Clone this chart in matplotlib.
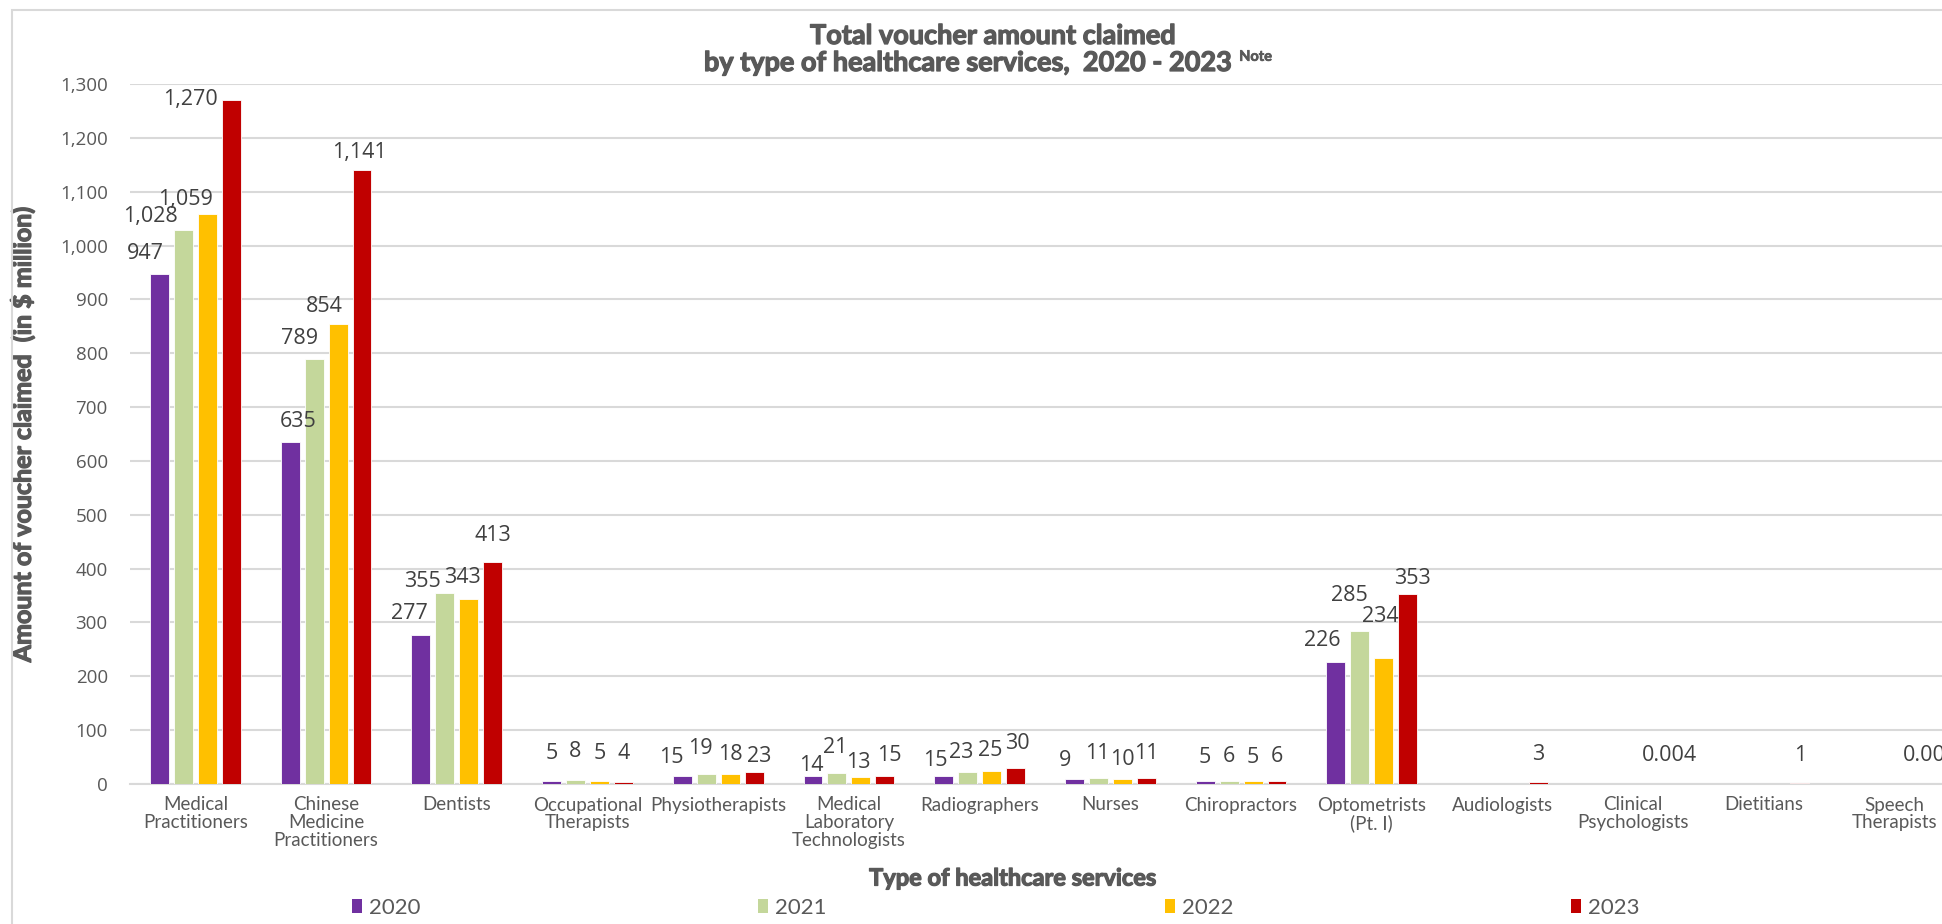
import numpy as np
import matplotlib
matplotlib.use('Agg')
import matplotlib.pyplot as plt
import matplotlib.patheffects as pe
from matplotlib.patches import Patch, Rectangle

# healthcare service types (x axis)
categories = ['Medical\nPractitioners', 'Chinese\nMedicine\nPractitioners', 'Dentists',
              'Occupational\nTherapists', 'Physiotherapists', 'Medical\nLaboratory\nTechnologists',
              'Radiographers', 'Nurses', 'Chiropractors', 'Optometrists\n(Pt. I)',
              'Audiologists', 'Clinical\nPsychologists', 'Dietitians', 'Speech\nTherapists']

years = ['2020', '2021', '2022', '2023']

# voucher amount claimed, $ million
v2020 = [947, 635, 277, 5, 15, 14, 15, 9, 5, 226, np.nan, np.nan, np.nan, np.nan]
v2021 = [1028, 789, 355, 8, 19, 21, 23, 11, 6, 285, np.nan, np.nan, np.nan, np.nan]
v2022 = [1059, 854, 343, 5, 18, 13, 25, 10, 5, 234, np.nan, np.nan, np.nan, np.nan]
v2023 = [1270, 1141, 413, 4, 23, 15, 30, 11, 6, 353, 3, 0.004, 1, 0.005]

colors = ['#7030A0', '#C4D79B', '#FFC000', '#C00000']

LATO = ['Lato', 'DejaVu Sans']
OPEN = ['Open Sans', 'DejaVu Sans']
GREY = '#595959'
# thicken the heading strokes
BOLD = [pe.withStroke(linewidth=0.9, foreground=GREY)]

fig = plt.figure(figsize=(19.42, 9.24), dpi=100)
W, H = 1942.0, 924.0

# plot area runs off the right edge of the chart
ax = fig.add_axes([130 / W, 1 - 784 / H, 1830 / W, 700 / H])

x = np.arange(len(categories))
offsets = [-0.275, -0.092, 0.092, 0.275]
series = [v2020, v2021, v2022, v2023]

# data label placement in pixels: (dx, height of label centre above bar top)
nudge = {
    (0, 0): (-14, 21), (0, 1): (-33, 14), (0, 2): (-22, 14), (0, 3): (-41, 1),
    (1, 0): (8, 21), (1, 1): (-14, 21), (1, 2): (-14, 18), (1, 3): (-3, 17),
    (2, 0): (-11, 21), (2, 1): (-22, 11), (2, 2): (-6, 22), (2, 3): (0, 26),
    (4, 0): (-11, 18), (4, 1): (-6, 25), (4, 2): (0, 20), (4, 3): (5, 15),
    (5, 0): (-2, 11), (5, 1): (-2, 25), (5, 2): (-3, 15), (5, 3): (4, 20),
    (6, 0): (-8, 15), (6, 1): (-6, 19), (6, 2): (-1, 20), (6, 3): (2, 24),
    (7, 0): (-9, 19), (7, 1): (-1, 25), (7, 2): (0, 19), (7, 3): (0, 25),
    (8, 0): (0, 24), (8, 1): (0, 24), (8, 2): (0, 24), (8, 3): (0, 24),
    (9, 0): (-14, 22), (9, 1): (-10, 35), (9, 2): (-3, 41), (9, 3): (5, 15),
}

px = 72.0 / 100  # pixels -> points

for i, vals in enumerate(series):
    vals = np.array(vals, dtype=float)
    ax.bar(x + offsets[i], vals, width=0.145, color=colors[i], edgecolor='white',
           linewidth=0.6, zorder=3)
    for j, v in enumerate(vals):
        if np.isnan(v):
            continue
        lab = f'{v:g}' if v < 1 else f'{v:,.0f}'
        dx, dy = nudge.get((j, i), (0, 28))
        ax.annotate(lab, (x[j] + offsets[i], v), xytext=(dx * px, dy * px),
                    textcoords='offset points', ha='center', va='center',
                    fontsize=15.5, color='#404040', family=OPEN, zorder=4)

ax.set_xlim(-0.5, len(categories) - 0.5)
ax.set_ylim(0, 1300)
ax.set_yticks(np.arange(0, 1301, 100))
ax.set_yticklabels([f'{t:,}' for t in range(0, 1301, 100)], family=OPEN)
ax.yaxis.grid(True, color='#D9D9D9', linewidth=1.5, zorder=0)
ax.set_axisbelow(True)
for s in ['top', 'right', 'left']:
    ax.spines[s].set_visible(False)
ax.spines['bottom'].set_color('#D9D9D9')
ax.spines['bottom'].set_linewidth(1.5)
ax.tick_params(axis='both', length=0)
ax.tick_params(axis='y', labelsize=13.5, labelcolor=GREY, pad=16)

ax.set_xticks(x)
ax.set_xticklabels(categories, family=LATO, fontsize=13.5, color=GREY,
                   linespacing=1.05, va='top')
ax.tick_params(axis='x', pad=9)

ax.set_ylabel('Amount of voucher claimed  (in $ million)', family=LATO,
              fontsize=18, fontweight='bold', color=GREY, path_effects=BOLD)
ax.yaxis.set_label_coords(-0.052, 0.5)

fig.text(1013 / W, 1 - 878 / H, 'Type of healthcare services', family=LATO,
         fontsize=17, fontweight='bold', color=GREY, ha='center', va='center',
         path_effects=BOLD)

# two-line title with a superscript note marker
fig.text(993 / W, 1 - 36 / H, 'Total voucher amount claimed', family=LATO,
         fontsize=19.5, fontweight='bold', color=GREY, ha='center', va='center',
         path_effects=BOLD)
t2 = fig.text(968 / W, 1 - 63 / H, 'by type of healthcare services,  2020 - 2023',
              family=LATO, fontsize=19.5, fontweight='bold', color=GREY,
              ha='center', va='center', path_effects=BOLD)
ax.annotate('  Note', xy=(1.0, 1.05), xycoords=t2, ha='left', va='top',
            family=LATO, fontsize=10.5, fontweight='bold', color=GREY,
            annotation_clip=False, path_effects=[pe.withStroke(linewidth=0.5, foreground=GREY)])

# legend spread under the axis title
handles = [Patch(facecolor=c, edgecolor='none') for c in colors]
fig.legend(handles, years, loc='center left', bbox_to_anchor=(352 / W, 1 - 908 / H),
           ncol=4, frameon=False, prop={'family': LATO, 'size': 16}, labelcolor=GREY,
           handlelength=0.45, handleheight=0.63, handletextpad=0.32,
           columnspacing=15.2, borderpad=0, borderaxespad=0)

# chart area border
fig.patches.append(Rectangle((12 / W, -0.1), 1.2, 1.1 - 10 / H, transform=fig.transFigure,
                             fill=False, edgecolor='#D9D9D9', linewidth=1.5))

fig.savefig('out.png', dpi=100, facecolor='white')
